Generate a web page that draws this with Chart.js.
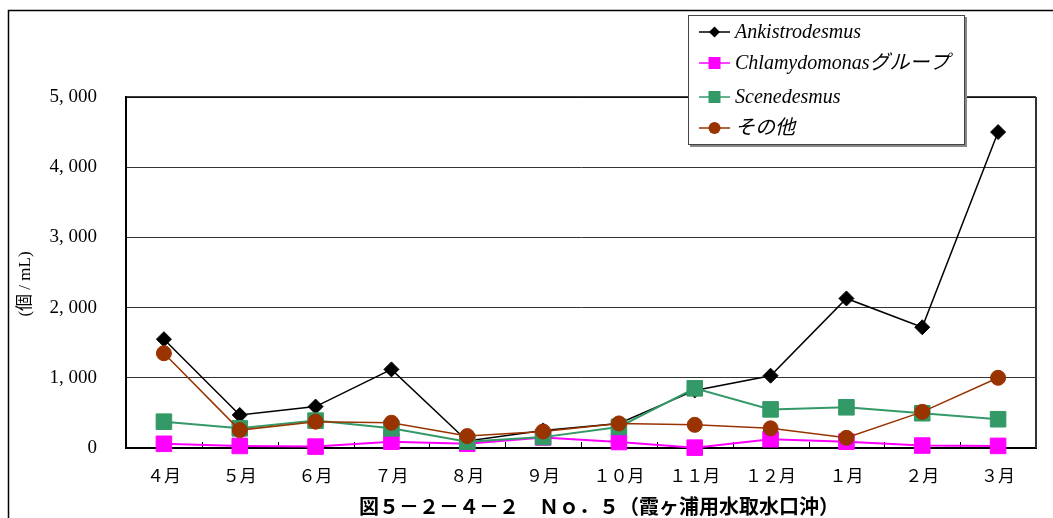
<!DOCTYPE html>
<html>
<head>
<meta charset="utf-8">
<script src="https://cdn.jsdelivr.net/npm/chart.js@4.4.1/dist/chart.umd.min.js"></script>
<style>
  html, body { margin: 0; padding: 0; background: #fff; }
  #wrap { width: 1053px; height: 518px; }
</style>
</head>
<body>
<div id="wrap"><canvas id="chart_No5" width="1053" height="518"></canvas></div>
<script>
// data
const months = ['４月', '５月', '６月', '７月', '８月', '９月', '１０月', '１１月', '１２月', '１月', '２月', '３月'];
const ankistrodesmus = [1550, 470, 590, 1120, 100, 250, 350, 820, 1030, 2130, 1720, 4500];
const chlamydomonas = [60, 30, 20, 90, 60, 150, 85, 5, 125, 90, 35, 30];
const scenedesmus = [375, 280, 390, 280, 90, 155, 300, 850, 550, 580, 495, 410];
const others = [1350, 255, 375, 360, 170, 235, 350, 330, 280, 145, 515, 1000];
const seriesNames = ['Ankistrodesmus', 'Chlamydomonasグループ', 'Scenedesmus', 'その他'];
const yMax = 5000;
const yStep = 1000;
const yTitle = '(個 / mL)';
const chartTitle = '図５－２－４－２　Ｎｏ．５（霞ヶ浦用水取水口沖）';

const serif = "'Liberation Serif', 'Noto Sans CJK JP', serif";
const jp = "'Noto Sans CJK JP', 'Liberation Serif', sans-serif";

function fmt(v) {
  // "5, 000" style
  return v >= 1000 ? Math.floor(v / 1000) + ', ' + String(v % 1000).padStart(3, '0') : String(v);
}

function series(label, data, color, style, radius, width, order) {
  return {
    label: label,
    data: data,
    borderColor: color,
    backgroundColor: color,
    pointBackgroundColor: color,
    pointBorderColor: color,
    pointStyle: style,
    pointRadius: radius,
    pointHoverRadius: radius,
    pointBorderWidth: 1,
    borderWidth: width,
    tension: 0,
    clip: false,
    order: order
  };
}

const extras = {
  id: 'extras',
  beforeDraw(chart) {
    const ctx = chart.ctx;
    ctx.save();
    // outer frame
    ctx.strokeStyle = '#000';
    ctx.lineWidth = 1.5;
    ctx.beginPath();
    ctx.moveTo(8.5, 518);
    ctx.lineTo(8.5, 10.5);
    ctx.lineTo(1053, 10.5);
    ctx.stroke();
    ctx.restore();
  },
  beforeDatasetsDraw(chart) {
    const ctx = chart.ctx;
    const x = chart.scales.x;
    const area = chart.chartArea;
    ctx.save();
    // plot border top / right
    ctx.strokeStyle = '#000';
    ctx.lineWidth = 1.5;
    ctx.beginPath();
    ctx.moveTo(area.left, area.top);
    ctx.lineTo(area.right, area.top);
    ctx.stroke();
    ctx.strokeStyle = '#333';
    ctx.lineWidth = 2;
    ctx.beginPath();
    ctx.moveTo(area.right, area.top);
    ctx.lineTo(area.right, area.bottom);
    ctx.stroke();
    // small inward ticks between months
    ctx.strokeStyle = '#000';
    ctx.lineWidth = 1;
    for (let i = 0; i < months.length - 1; i++) {
      const px = Math.round((x.getPixelForTick(i) + x.getPixelForTick(i + 1)) / 2) + 0.5;
      ctx.beginPath();
      ctx.moveTo(px, area.bottom);
      ctx.lineTo(px, area.bottom - 6);
      ctx.stroke();
    }
    ctx.restore();
  },
  afterDraw(chart) {
    const ctx = chart.ctx;
    ctx.save();
    // y title
    ctx.fillStyle = '#000';
    ctx.font = '17px ' + serif;
    ctx.textAlign = 'center';
    ctx.textBaseline = 'middle';
    ctx.translate(26, 284);
    ctx.rotate(-Math.PI / 2);
    ctx.fillText(yTitle, 0, 0);
    ctx.restore();

    // bottom title
    ctx.save();
    ctx.fillStyle = '#000';
    ctx.font = 'bold 20px ' + jp;
    ctx.textAlign = 'center';
    ctx.textBaseline = 'middle';
    ctx.fillText(chartTitle, 599, 506);
    ctx.restore();

    // legend box
    ctx.save();
    ctx.fillStyle = '#888';
    ctx.fillRect(690, 17, 277, 130);
    ctx.fillStyle = '#fff';
    ctx.fillRect(688, 15, 277, 130);
    ctx.strokeStyle = '#444';
    ctx.lineWidth = 1;
    ctx.strokeRect(688.5, 15.5, 276, 129);
    const rows = [32, 63, 97, 128];
    chart.data.datasets.forEach((ds, i) => {
      const y = rows[i];
      ctx.strokeStyle = ds.borderColor;
      ctx.lineWidth = 1.5;
      ctx.beginPath();
      ctx.moveTo(699, y);
      ctx.lineTo(730, y);
      ctx.stroke();
      ctx.fillStyle = ds.backgroundColor;
      ctx.beginPath();
      if (ds.pointStyle === 'rectRot') {
        ctx.moveTo(714.5, y - 5.5); ctx.lineTo(720, y); ctx.lineTo(714.5, y + 5.5); ctx.lineTo(709, y);
        ctx.closePath();
      } else if (ds.pointStyle === 'rect') {
        ctx.rect(708.5, y - 6, 12, 12);
      } else {
        ctx.arc(714.5, y, 6, 0, Math.PI * 2);
      }
      ctx.fill();
      ctx.fillStyle = '#000';
      ctx.font = 'italic 20px ' + serif;
      ctx.textAlign = 'left';
      ctx.textBaseline = 'middle';
      ctx.fillText(ds.label, 735, y + 1);
    });
    ctx.restore();
  }
};

new Chart(document.getElementById('chart_No5'), {
  type: 'line',
  data: {
    labels: months,
    datasets: [
      series(seriesNames[0], ankistrodesmus, '#000000', 'rectRot', 7.5, 1.5, 4),
      series(seriesNames[1], chlamydomonas, '#ff00ff', 'rect', 11, 2, 3),
      series(seriesNames[2], scenedesmus, '#339966', 'rect', 11, 2, 2),
      series(seriesNames[3], others, '#993300', 'circle', 7.5, 1.5, 1)
    ]
  },
  options: {
    responsive: false,
    animation: false,
    layout: {
      padding: { left: 0, top: 97, right: 17, bottom: 0 }
    },
    scales: {
      x: {
        type: 'category',
        offset: true,
        grid: { display: false, drawTicks: false },
        border: { display: true, color: '#000', width: 2 },
        ticks: {
          color: '#000',
          padding: 17,
          autoSkip: false,
          maxRotation: 0,
          font: { family: jp, size: 17 }
        },
        afterFit(scale) { scale.height = 70; }
      },
      y: {
        min: 0,
        max: yMax,
        grid: { color: '#333', lineWidth: 1, drawTicks: false },
        border: { display: true, color: '#000', width: 2 },
        ticks: {
          stepSize: yStep,
          color: '#000',
          padding: 29,
          font: { family: serif, size: 19 },
          callback: (v) => fmt(v)
        },
        afterFit(scale) { scale.width = 126; }
      }
    },
    plugins: {
      legend: { display: false },
      title: { display: false },
      tooltip: { enabled: false }
    }
  },
  plugins: [extras]
});
</script>
</body>
</html>
